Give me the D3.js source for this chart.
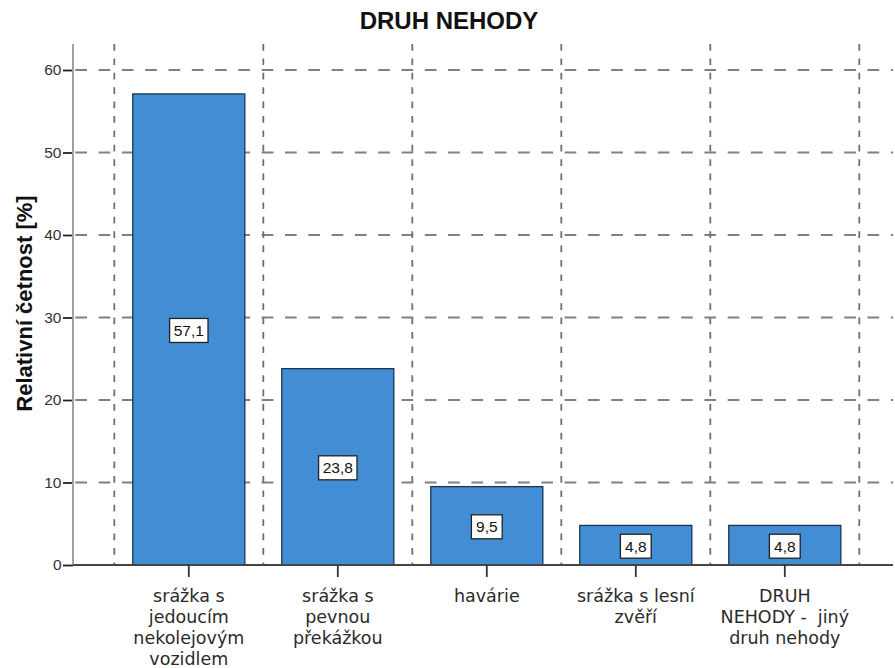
<!DOCTYPE html>
<html>
<head>
<meta charset="utf-8">
<script src="https://cdn.jsdelivr.net/npm/d3@7"></script>
<style>
  html, body { margin: 0; padding: 0; background: #fff; }
  svg { display: block; font-family: "Liberation Sans", Arial, sans-serif; }
</style>
</head>
<body>
<svg id="chart" width="895" height="668"></svg>
<script>
// Accident types and their relative frequencies (%)
const categories = [
  ["srážka s", "jedoucím", "nekolejovým", "vozidlem"],
  ["srážka s", "pevnou", "překážkou"],
  ["havárie"],
  ["srážka s lesní", "zvěří"],
  ["DRUH", "NEHODY -  jiný", "druh nehody"]
];
const values = [57.1, 23.8, 9.5, 4.8, 4.8];
const valueLabels = ["57,1", "23,8", "9,5", "4,8", "4,8"];
const yTicks = [0, 10, 20, 30, 40, 50, 60];
const title = "DRUH NEHODY";
const yTitle = "Relativní četnost [%]";

const svg = d3.select("#chart");
const axisX = 73, plotTop = 44, plotRight = 893;

const x = d3.scaleBand()
  .domain(d3.range(values.length))
  .range([114.3, 859.3])
  .paddingInner(0.248)
  .paddingOuter(0.124);

const y = d3.scaleLinear().domain([0, 60]).range([565, 70]);

// Title
svg.append("text")
  .attr("x", 449).attr("y", 29)
  .attr("text-anchor", "middle")
  .attr("font-size", 24).attr("font-weight", "bold")
  .attr("fill", "#111")
  .text(title);

// Horizontal dashed gridlines
svg.append("g").selectAll("line").data(yTicks.filter(d => d > 0)).join("line")
  .attr("x1", axisX).attr("x2", plotRight)
  .attr("y1", d => y(d)).attr("y2", d => y(d))
  .attr("stroke", "#808080").attr("stroke-width", 1.8)
  .attr("stroke-dasharray", "11.7,11.6")
  .attr("stroke-dashoffset", -2.3);

// Vertical dashed gridlines at category boundaries
const bounds = d3.range(values.length + 1).map(i => x.range()[0] + i * x.step());
svg.append("g").selectAll("line").data(bounds).join("line")
  .attr("x1", d => d).attr("x2", d => d)
  .attr("y1", plotTop).attr("y2", y(0))
  .attr("stroke", "#707070").attr("stroke-width", 1.8)
  .attr("stroke-dasharray", "6.7,7.7");

// Bars
svg.append("g").selectAll("rect").data(values).join("rect")
  .attr("x", (d, i) => x(i))
  .attr("y", d => y(d))
  .attr("width", x.bandwidth())
  .attr("height", d => y(0) - y(d))
  .attr("fill", "#438dd5")
  .attr("stroke", "#1b3550").attr("stroke-width", 1.3);

// Value labels in white boxes at the middle of each bar
const lbl = svg.append("g").selectAll("g").data(values).join("g")
  .attr("transform", (d, i) => `translate(${x(i) + x.bandwidth() / 2},${(y(d) + y(0)) / 2 + 1})`);
const boxW = s => s.length * 7.6 + 8;
lbl.append("rect")
  .attr("x", (d, i) => -boxW(valueLabels[i]) / 2)
  .attr("y", -12)
  .attr("width", (d, i) => boxW(valueLabels[i]))
  .attr("height", 24)
  .attr("fill", "#fff").attr("stroke", "#222").attr("stroke-width", 1.3);
lbl.append("text")
  .attr("text-anchor", "middle").attr("y", 5.5)
  .attr("font-size", 15.5).attr("fill", "#111")
  .text((d, i) => valueLabels[i]);

// Y axis
const yAxis = svg.append("g")
  .attr("transform", `translate(${axisX},0)`)
  .call(d3.axisLeft(y).tickValues(yTicks).tickSize(10).tickPadding(1.5));
yAxis.select(".domain").remove();
yAxis.selectAll(".tick line").attr("stroke", "#222").attr("stroke-width", 1.8);
yAxis.selectAll(".tick text").attr("font-size", 15.5).attr("fill", "#333")
  .attr("font-family", "Liberation Sans, Arial, sans-serif");
svg.append("line")
  .attr("x1", axisX).attr("x2", axisX).attr("y1", plotTop).attr("y2", y(0))
  .attr("stroke", "#a0a0a0").attr("stroke-width", 2);

// Baseline
svg.append("line")
  .attr("x1", axisX).attr("x2", plotRight).attr("y1", y(0)).attr("y2", y(0))
  .attr("stroke", "#444").attr("stroke-width", 1.8);

// X ticks and multi-line category labels
const xg = svg.append("g").selectAll("g").data(categories).join("g")
  .attr("transform", (d, i) => `translate(${x(i) + x.bandwidth() / 2},${y(0)})`);
xg.append("line").attr("y1", 0).attr("y2", 12)
  .attr("stroke", "#333").attr("stroke-width", 1.8);
xg.append("text")
  .attr("text-anchor", "middle")
  .attr("font-family", "'DejaVu Sans', sans-serif")
  .attr("font-size", 17.5).attr("fill", "#2a2a2a")
  .style("white-space", "pre")
  .selectAll("tspan").data(d => d).join("tspan")
  .attr("x", 0)
  .attr("y", (d, j) => 36.5 + j * 21)
  .text(d => d);

// Y axis title
svg.append("text")
  .attr("transform", "translate(32,303.5) rotate(-90)")
  .attr("text-anchor", "middle")
  .attr("font-size", 22).attr("font-weight", "bold")
  .attr("fill", "#111")
  .text(yTitle);
</script>
</body>
</html>
